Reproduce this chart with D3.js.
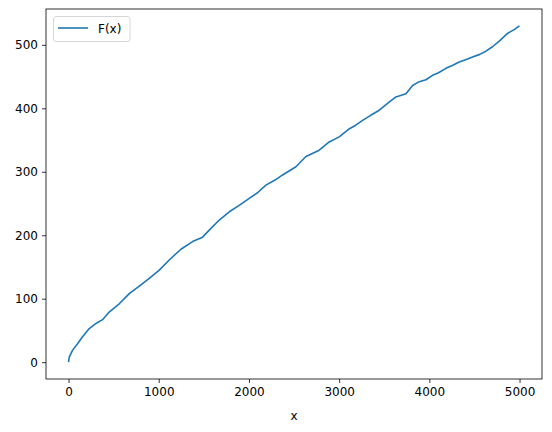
<!DOCTYPE html>
<html>
<head>
<meta charset="utf-8">
<script src="https://cdn.jsdelivr.net/npm/d3@7"></script>
<style>
  body { margin: 0; background: #fff; }
  svg { font-family: "DejaVu Sans", sans-serif; }
</style>
</head>
<body>
<div id="chart-area"></div>
<script>
// F(x) samples
const xs = [0, 8, 45, 100, 155, 230, 304, 377, 451, 562, 673, 784, 895, 1006, 1116, 1246,
  1375, 1486, 1560, 1671, 1782, 1892, 2003, 2095, 2188, 2290, 2373, 2521, 2632, 2779, 2890,
  3001, 3104, 3180, 3260, 3350, 3445, 3540, 3630, 3741, 3814, 3888, 3962, 4036, 4102, 4184,
  4260, 4331, 4410, 4479, 4560, 4627, 4700, 4775, 4867, 4940, 4999]
const ys = [0, 8, 19, 29, 40, 53, 61, 67, 79, 92, 108, 120, 132, 145, 161, 178,
  190, 197, 208, 224, 237, 247, 258, 267, 279, 287, 295, 308, 324, 334, 347,
  355, 367, 373, 381, 389, 397, 408, 418, 423, 436, 442, 445, 452, 456, 463,
  468, 473, 477, 481, 485, 490, 497, 506, 518, 524, 530]
const xTicks = [0, 1000, 2000, 3000, 4000, 5000]
const yTicks = [0, 100, 200, 300, 400, 500]

const svg = d3.select("#chart-area").append("svg")
    .attr("width", 552)
    .attr("height", 432)

const plotLeft = 46, plotRight = 542, plotTop = 9, plotBottom = 379

const x = d3.scaleLinear().domain([-250, 5249]).range([plotLeft, plotRight])
const y = d3.scaleLinear().domain([-26.5, 556.5]).range([plotBottom, plotTop])

// axes
const xAxis = svg.append("g")
    .attr("transform", `translate(0,${plotBottom})`)
    .call(d3.axisBottom(x).tickValues(xTicks).tickSize(4).tickPadding(4).tickFormat(d3.format("d")))
const yAxis = svg.append("g")
    .attr("transform", `translate(${plotLeft},0)`)
    .call(d3.axisLeft(y).tickValues(yTicks).tickSize(4).tickPadding(4).tickFormat(d3.format("d")))

for (const ax of [xAxis, yAxis]) {
  ax.select(".domain").remove()
  ax.selectAll("line").attr("stroke", "#000").attr("stroke-width", 0.8)
  ax.selectAll("text").attr("font-size", 12).attr("fill", "#000")
    .attr("font-family", "DejaVu Sans, sans-serif")
}

// line
const pts = xs.map((d, i) => [d, ys[i]])
svg.append("path")
    .datum(pts)
    .attr("fill", "none")
    .attr("stroke", "#1f77b4")
    .attr("stroke-width", 1.6)
    .attr("stroke-linejoin", "round")
    .attr("d", d3.line().x(d => x(d[0])).y(d => y(d[1])))

// frame
svg.append("rect")
    .attr("x", plotLeft)
    .attr("y", plotTop)
    .attr("width", plotRight - plotLeft)
    .attr("height", plotBottom - plotTop)
    .attr("fill", "none")
    .attr("stroke", "#000")
    .attr("stroke-width", 0.8)

// x label
svg.append("text")
    .attr("x", (plotLeft + plotRight) / 2)
    .attr("y", 420)
    .attr("text-anchor", "middle")
    .attr("font-size", 12)
    .text("x")

// legend
const lg = svg.append("g")
lg.append("rect")
    .attr("x", 53.5)
    .attr("y", 16.5)
    .attr("width", 76.5)
    .attr("height", 25)
    .attr("rx", 2.5)
    .attr("fill", "#fff")
    .attr("fill-opacity", 0.8)
    .attr("stroke", "#ccc")
    .attr("stroke-width", 0.8)
lg.append("line")
    .attr("x1", 58)
    .attr("x2", 88)
    .attr("y1", 28)
    .attr("y2", 28)
    .attr("stroke", "#1f77b4")
    .attr("stroke-width", 1.6)
lg.append("text")
    .attr("x", 98)
    .attr("y", 32.5)
    .attr("font-size", 12)
    .text("F(x)")
</script>
</body>
</html>
